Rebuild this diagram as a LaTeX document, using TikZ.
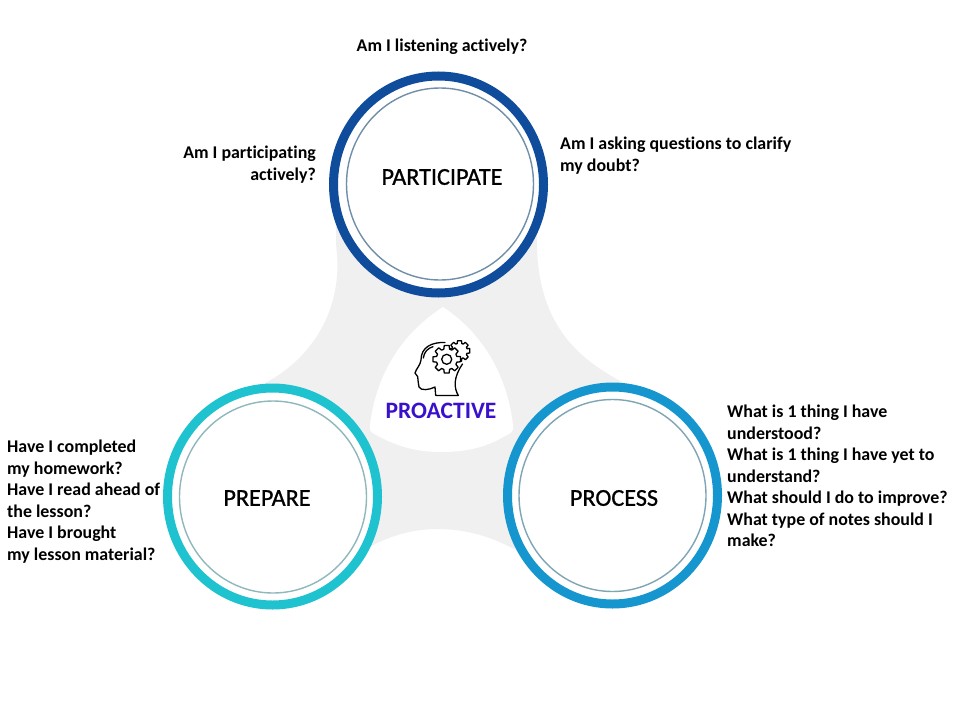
\documentclass[tikz,border=0pt]{standalone}
\usepackage{fontspec}
\usetikzlibrary{calc,shapes.geometric}
\setmainfont[Ligatures=NoCommon]{Carlito}
\newfontfamily\titlefont[Ligatures=NoCommon,FakeBold=0.9]{Carlito}
\definecolor{bandgrey}{HTML}{F0F0F0}
\definecolor{partouter}{HTML}{0F4C9C}
\definecolor{partinner}{HTML}{6F8FA8}
\definecolor{prepouter}{HTML}{1FC3CF}
\definecolor{prepinner}{HTML}{8FB8BC}
\definecolor{procouter}{HTML}{1596CE}
\definecolor{procinner}{HTML}{7FA5B5}
\definecolor{protext}{HTML}{3A10CC}
\tikzset{
  x=1pt,y=-1pt,
  outerring/.style={draw,ellipse,line width=9pt,fill=white,minimum width=210pt,minimum height=217pt,inner sep=0pt,outer sep=0pt},
  innerring/.style={draw,ellipse,line width=1.4pt,minimum width=187pt,minimum height=192pt,inner sep=0pt,outer sep=0pt},
  title/.style={font=\titlefont\fontsize{24.2}{26}\selectfont,text=black},
  note/.style={font=\fontsize{17.9}{21.5}\selectfont\bfseries,text=black,inner sep=0pt},
}
\begin{document}
\begin{tikzpicture}
\useasboundingbox (0,0) rectangle (960,720);
\fill[white] (0,0) rectangle (960,720);
% grey band
\fill[bandgrey] (336,225) -- (336,245) .. controls (345,310) and (310,360) .. (265,383)
  -- (272,497) -- (368,548) .. controls (390,535) and (415,529) .. (437,529)
  .. controls (465,529) and (490,536) .. (514,549)
  -- (612,496) -- (622,382) .. controls (585,362) and (538,330) .. (537,245) -- (537,225) -- cycle;
% white centre
\fill[white] (443,307) .. controls (415,325) and (378,360) .. (370,425)
  .. controls (369,432) and (372,433) .. (378,436)
  .. controls (398,447) and (418,452) .. (441,452)
  .. controls (467,452) and (487,447) .. (505,436)
  .. controls (511,433) and (514,432) .. (513,425)
  .. controls (505,360) and (470,325) .. (443,307) -- cycle;
% rings
\node[outerring,draw=partouter] (partO) at (438.5,184.5) {};
\node[innerring,draw=partinner] (partI) at (440,184) {};
\node[outerring,draw=prepouter] (prepO) at (272.5,496.5) {};
\node[innerring,draw=prepinner] (prepI) at (273,497) {};
\node[outerring,draw=procouter] (procO) at (612.5,495.5) {};
\node[innerring,draw=procinner] (procI) at (612.5,495.5) {};
\node[title] (part) at (442,177) {PARTICIPATE};
\node[title] (prep) at (267,498) {PREPARE};
\node[title] (proc) at (614,498) {PROCESS};
\node[font=\fontsize{23.5}{25}\selectfont\bfseries,text=protext] (pro) at (441,411) {PROACTIVE};
\node[note,anchor=north] (n1) at (442,39) {Am I listening actively?};
\node[note,anchor=north east,align=right] (n2) at (316,146) {Am I participating\\actively?};
\node[note,anchor=north west,align=left] (n3) at (560,137) {Am I asking questions to clarify\\my doubt?};
\node[note,anchor=north west,align=left] (n4) at (7,440) {Have I completed\\my homework?\\Have I read ahead of\\the lesson?\\Have I brought\\my lesson material?};
\node[note,anchor=north west,align=left] (n5) at (727,405) {What is 1 thing I have\\understood?\\What is 1 thing I have yet to\\understand?\\What should I do to improve?\\What type of notes should I\\make?};
% head icon
\begin{scope}[line width=1.3pt,black,line cap=round,line join=round]
\draw (445,342.5) .. controls (432,342) and (421,347) .. (421,360) .. controls (420.5,365) and (416,369) .. (415,373) -- (417.7,376.7)
  .. controls (418,381) and (418.5,384) .. (419,387) .. controls (421,391) and (429,390) .. (435,387) -- (435.7,395.5) -- (458.3,395.5)
  .. controls (454,388) and (453,378) .. (462.5,364);
\draw (423.3,358) .. controls (424,352) and (428,348) .. (433,346.7);
% small gear, then big gear over it
\coordinate (gs) at (459.5,351);
\coordinate (gb) at (446.7,359.3);
\draw[fill=white] ($(gs)+(-14:10.5)$)
  \foreach \a in {0,45,...,315}{ -- ($(gs)+(\a-11:10.5)$) -- ($(gs)+(\a+11:10.5)$) -- ($(gs)+(\a+17:7.8)$) -- ($(gs)+(\a+28:7.8)$) } -- cycle;
\draw[fill=white] ($(gb)+(-11:14)$)
  \foreach \a in {0,45,...,315}{ -- ($(gb)+(\a-10:14)$) -- ($(gb)+(\a+10:14)$) -- ($(gb)+(\a+16:10.5)$) -- ($(gb)+(\a+29:10.5)$) } -- cycle;
\draw (gb) circle[radius=5];
\end{scope}
\end{tikzpicture}
\end{document}
